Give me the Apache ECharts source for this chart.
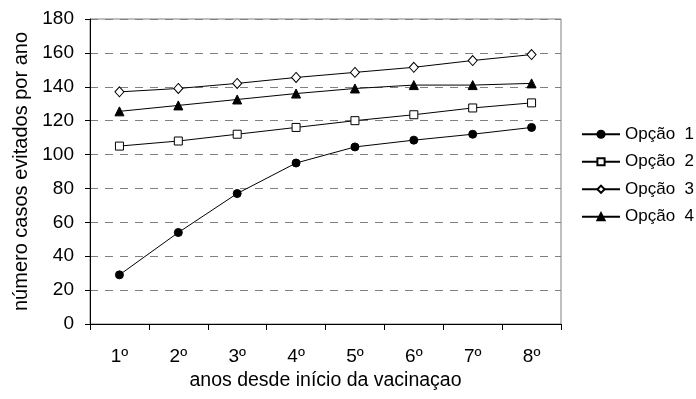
<!DOCTYPE html>
<html><head><meta charset="utf-8">
<script src="https://cdn.jsdelivr.net/npm/echarts@6/dist/echarts.min.js"></script>
<style>html,body{margin:0;padding:0;background:#fff}#c{width:696px;height:399px}</style>
</head><body><div id="c"></div>
<script>
const categories = ['1º','2º','3º','4º','5º','6º','7º','8º'];
const opcao1 = [29, 54, 77, 95, 104.5, 108.5, 112, 116];
const opcao2 = [105, 108, 112, 116, 120, 123.5, 127.5, 130.5];
const opcao3 = [137, 139, 142, 145.5, 148.5, 151.5, 155.5, 159];
const opcao4 = [125.5, 129, 132.5, 136, 139, 141, 141, 142];
const seriesNames = ['Opção  1','Opção  2','Opção  3','Opção  4'];
const yTicks = {min: 0, max: 180, interval: 20};

const font = 'Liberation Sans, Arial, sans-serif';
function mk(name, data, symbol, size, filled) {
  return {
    name, type: 'line', data, symbol, symbolSize: size, showSymbol: true,
    lineStyle: {color: '#000', width: 1},
    itemStyle: {color: filled ? '#000' : '#fff', borderColor: '#000', borderWidth: 1},
    emphasis: {disabled: true}, animation: false
  };
}
const chart = echarts.init(document.getElementById('c'), null, {renderer: 'canvas'});
chart.setOption({
  animation: false,
  grid: {left: 90, right: 135, top: 19, bottom: 75, show: true, borderColor: '#808080', borderWidth: 1},
  legend: {
    orient: 'vertical', left: 581, top: 125, padding: 0, itemWidth: 38, itemHeight: 9, itemGap: 9,
    textStyle: {fontFamily: font, fontSize: 17, color: '#000', lineHeight: 18.5},
    data: seriesNames
  },
  xAxis: {
    type: 'category', data: categories, boundaryGap: true,
    axisLine: {lineStyle: {color: '#000', width: 1}},
    axisTick: {show: true, interval: 0, length: 6, lineStyle: {color: '#000'}},
    axisLabel: {fontFamily: font, fontSize: 19, color: '#000', margin: 23},
    name: 'anos desde início da vacinaçao', nameLocation: 'middle', nameGap: 46,
    nameTextStyle: {fontFamily: font, fontSize: 19.5, color: '#000'}
  },
  yAxis: {
    type: 'value', min: yTicks.min, max: yTicks.max, interval: yTicks.interval,
    axisLine: {show: true, lineStyle: {color: '#000', width: 1}},
    axisTick: {show: true, length: 5, lineStyle: {color: '#000'}},
    axisLabel: {fontFamily: font, fontSize: 19, color: '#000', margin: 16},
    splitLine: {show: true, lineStyle: {color: '#808080', type: [8,7], width: 1}},
    name: 'número casos evitados por ano', nameLocation: 'middle', nameGap: 53,
    nameTextStyle: {fontFamily: font, fontSize: 20, color: '#000'}
  },
  series: [
    mk(seriesNames[0], opcao1, 'circle', 8, true),
    mk(seriesNames[1], opcao2, 'rect', 8, false),
    mk(seriesNames[2], opcao3, 'diamond', [9,10], false),
    mk(seriesNames[3], opcao4, 'triangle', 9, true)
  ]
});
</script></body></html>
